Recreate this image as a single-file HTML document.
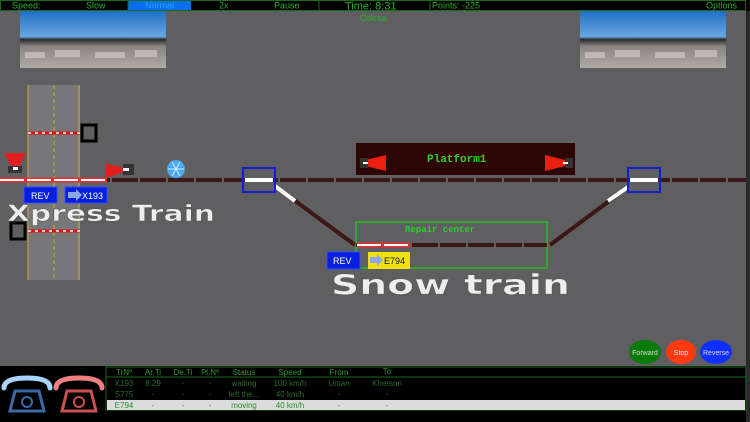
<!DOCTYPE html>
<html><head><style>
html,body{margin:0;padding:0;background:#5f5e60;}
svg{display:block;font-family:"Liberation Sans",sans-serif;}
</style></head><body>
<svg width="750" height="422" viewBox="0 0 750 422" xmlns="http://www.w3.org/2000/svg">
<defs>
<linearGradient id="sky" x1="0" y1="0" x2="0" y2="1">
<stop offset="0" stop-color="#1f6fc8"/><stop offset="0.45" stop-color="#6aa6e0"/><stop offset="0.5" stop-color="#2a2a2a"/><stop offset="0.62" stop-color="#8a8580"/><stop offset="1" stop-color="#b0aba5"/>
</linearGradient>
</defs>
<rect width="750" height="422" fill="#5f5e60"/>
<rect x="746" y="0" width="4" height="422" fill="#2a2a2a"/>
<!-- top bar -->
<rect x="0" y="0" width="750" height="11" fill="#000"/>
<rect x="128" y="0" width="63" height="10" fill="#0a6ef0"/>
<g fill="none" stroke="#1a6a1a" stroke-width="1"><rect x="0.5" y="0.5" width="745" height="10"/><line x1="128" y1="0" x2="128" y2="11"/><line x1="319" y1="0" x2="319" y2="11"/><line x1="430" y1="0" x2="430" y2="11"/></g>
<g fill="#2ab02a" font-size="9">
<text x="12" y="8.5">Speed:</text><text x="86" y="8.5">Slow</text><text x="145" y="8.5" fill="#1fa0ff">Normal</text><text x="219" y="8.5">2x</text><text x="274" y="8.5">Pause</text>
<text x="345" y="9.5" font-size="11">Time: 8:31</text><text x="432" y="8.5">Points: -225</text><text x="706" y="8.5">Options</text>
<text x="360" y="21">Odesa</text></g>
<!-- photos -->
<rect x="20" y="11" width="146" height="57" fill="url(#sky)"/>
<rect x="580" y="11" width="146" height="57" fill="url(#sky)"/>
<g fill="#cfcac4" opacity="0.7">
<rect x="25" y="52" width="20" height="6"/><rect x="55" y="50" width="25" height="7"/><rect x="95" y="52" width="30" height="6"/><rect x="135" y="50" width="22" height="7"/>
<rect x="585" y="52" width="20" height="6"/><rect x="615" y="50" width="25" height="7"/><rect x="655" y="52" width="30" height="6"/><rect x="695" y="50" width="22" height="7"/>
</g>
<!-- road -->
<rect x="28" y="85" width="52" height="195" fill="#777678"/>
<g stroke="#c8b030" stroke-width="1"><line x1="28" y1="85" x2="28" y2="280"/><line x1="79" y1="85" x2="79" y2="280"/><line x1="54" y1="85" x2="54" y2="280" stroke-dasharray="4 3"/></g>
<line x1="28" y1="133" x2="80" y2="133" stroke="#e01010" stroke-width="3"/><line x1="28" y1="133" x2="80" y2="133" stroke="#fff" stroke-width="1.5" stroke-dasharray="3 4"/>
<line x1="28" y1="231" x2="80" y2="231" stroke="#e01010" stroke-width="3"/><line x1="28" y1="231" x2="80" y2="231" stroke="#fff" stroke-width="1.5" stroke-dasharray="3 4"/>
<rect x="82" y="125" width="14" height="16" fill="none" stroke="#000" stroke-width="3"/>
<rect x="11" y="223" width="14" height="16" fill="none" stroke="#000" stroke-width="3"/>
<!-- main track -->
<line x1="0" y1="180" x2="746" y2="180" stroke="#3a1818" stroke-width="4" stroke-dasharray="26 2"/>
<line x1="0" y1="180" x2="107" y2="180" stroke="#e83030" stroke-width="5"/><line x1="0" y1="180" x2="107" y2="180" stroke="#fff" stroke-width="2" stroke-dasharray="24 3"/>
<!-- diagonals -->
<line x1="275" y1="186" x2="355" y2="245" stroke="#3a1818" stroke-width="4"/>
<line x1="275" y1="186" x2="295" y2="201" stroke="#fff" stroke-width="4"/>
<line x1="550" y1="245" x2="628" y2="187" stroke="#3a1818" stroke-width="4"/>
<line x1="608" y1="201" x2="628" y2="187" stroke="#fff" stroke-width="4"/>
<!-- switch boxes -->
<rect x="243" y="168" width="32" height="24" fill="none" stroke="#1020d0" stroke-width="2"/><line x1="245" y1="180" x2="273" y2="180" stroke="#fff" stroke-width="4"/>
<rect x="628" y="168" width="32" height="24" fill="none" stroke="#1020d0" stroke-width="2"/><line x1="630" y1="180" x2="658" y2="180" stroke="#fff" stroke-width="4"/>
<!-- signals -->
<polygon points="4,153 26,153 18,168 12,168" fill="#e02020"/><rect x="8" y="166" width="14" height="7" fill="#333"/><rect x="13" y="167" width="5" height="3" fill="#fff"/>
<polygon points="106,163 124,168 124,172 106,178" fill="#e02020"/><rect x="123" y="164" width="11" height="11" fill="#333"/><rect x="123" y="168" width="6" height="3" fill="#fff"/>
<!-- snowflake -->
<circle cx="176" cy="169" r="9" fill="#4aa8f0"/><g stroke="#d0ecff" stroke-width="1"><line x1="168" y1="169" x2="184" y2="169"/><line x1="172" y1="162" x2="180" y2="176"/><line x1="180" y1="162" x2="172" y2="176"/></g>
<!-- X193 labels -->
<rect x="24" y="187" width="33" height="16" fill="#0a1ee0" stroke="#3050ff"/><text x="31" y="199" fill="#fff" font-size="9">REV</text>
<rect x="65" y="187" width="42" height="16" fill="#0a1ee0" stroke="#3050ff"/><polygon points="68,192 76,192 76,189 82,195 76,201 76,198 68,198" fill="#8aa8e8"/><text x="82" y="199" fill="#fff" font-size="9">X193</text>
<text x="7" y="221" fill="#eee" font-size="22" font-weight="bold" textLength="208" lengthAdjust="spacingAndGlyphs" stroke="#555" stroke-width="0.5" font-family="'DejaVu Sans',sans-serif">Xpress Train</text>
<!-- platform -->
<rect x="356" y="143" width="219" height="32" fill="#2e0606"/>
<polygon points="386,155 366,160 366,166 386,171" fill="#e82010"/><rect x="360" y="158" width="8" height="10" fill="#333"/><rect x="363" y="162" width="5" height="2" fill="#fff"/>
<polygon points="545,155 565,160 565,166 545,171" fill="#e82010"/><rect x="565" y="158" width="8" height="10" fill="#333"/><rect x="563" y="162" width="5" height="2" fill="#fff"/>
<text x="427" y="162" fill="#2ed02e" font-size="11" font-family="'Liberation Mono',monospace" font-weight="bold">Platform1</text>
<!-- repair center -->
<rect x="356" y="222" width="191" height="46" fill="none" stroke="#20c020" stroke-width="1.5"/>
<text x="405" y="232" fill="#2ed02e" font-size="9" font-family="'Liberation Mono',monospace" font-weight="bold">Repair center</text>
<line x1="356" y1="245" x2="547" y2="245" stroke="#3a1818" stroke-width="4" stroke-dasharray="26 2"/>
<line x1="357" y1="245" x2="410" y2="245" stroke="#e83030" stroke-width="5"/><line x1="357" y1="245" x2="410" y2="245" stroke="#fff" stroke-width="2" stroke-dasharray="24 3"/>
<rect x="327" y="252" width="33" height="17" fill="#0a1ee0" stroke="#3050ff"/><text x="333" y="264" fill="#fff" font-size="9">REV</text>
<rect x="368" y="252" width="42" height="17" fill="#f0e010"/><polygon points="370,257 377,257 377,254 383,260 377,266 377,263 370,263" fill="#8aa8e8"/><text x="384" y="264" fill="#111" font-size="9">E794</text>
<text x="331" y="294" fill="#eee" font-size="28" font-weight="bold" textLength="239" lengthAdjust="spacingAndGlyphs" stroke="#555" stroke-width="0.5" font-family="'DejaVu Sans',sans-serif">Snow train</text>
<!-- buttons -->
<ellipse cx="645" cy="352" rx="16" ry="12" fill="#0a7a0a"/><text x="645" y="355" fill="#ddd" font-size="7" text-anchor="middle">Forward</text>
<ellipse cx="681" cy="352" rx="15" ry="12" fill="#ff3a10"/><text x="681" y="355" fill="#eee" font-size="7" text-anchor="middle">Stop</text>
<ellipse cx="716" cy="352" rx="16" ry="12" fill="#1030ff"/><text x="716" y="355" fill="#ddd" font-size="7" text-anchor="middle">Reverse</text>
<!-- bottom panel -->
<rect x="0" y="366" width="746" height="56" fill="#000"/>
<rect x="106" y="367" width="640" height="43" fill="none" stroke="#1a6a1a"/>
<line x1="106" y1="377" x2="746" y2="377" stroke="#1a6a1a"/>
<rect x="107" y="400" width="638" height="10" fill="#dcdcdc"/>
<g font-size="8" text-anchor="middle" fill="#2a9a2a">
<text x="124" y="375">TrNº</text><text x="153" y="375">Ar.Ti</text><text x="183" y="375">De.Ti</text><text x="210" y="375">Pl.Nº</text><text x="244" y="375">Status</text><text x="290" y="375">Speed</text><text x="339" y="375">From</text><text x="387" y="374">To</text>
<g fill="#2a6a2a"><text x="124" y="386">X193</text><text x="153" y="386">8:29</text><text x="183" y="386">-</text><text x="210" y="386">-</text><text x="244" y="386">waiting</text><text x="290" y="386">100 km/h</text><text x="339" y="386">Uman</text><text x="387" y="386">Kherson</text>
<text x="124" y="397">S775</text><text x="153" y="397">-</text><text x="183" y="397">-</text><text x="210" y="397">-</text><text x="244" y="397">left the...</text><text x="290" y="397">40 km/h</text><text x="339" y="397">-</text><text x="387" y="397">-</text></g>
<g fill="#2a8a2a"><text x="124" y="408">E794</text><text x="153" y="408">-</text><text x="183" y="408">-</text><text x="210" y="408">-</text><text x="244" y="408">moving</text><text x="290" y="408">40 km/h</text><text x="339" y="408">-</text><text x="387" y="408">-</text></g>
</g>
<!-- phones -->
<g fill="none" stroke-width="3" stroke-linecap="round">
<path d="M4,388 Q4,378 27,378 Q50,378 50,388" stroke="#a8d4ff" stroke-width="5"/>
<path d="M10,411 L15,391 L39,391 L44,411 Z" stroke="#3a6aa8"/><circle cx="27" cy="402" r="5" stroke="#3a6aa8" stroke-width="2"/>
<path d="M56,388 Q56,378 79,378 Q102,378 102,388" stroke="#f08080" stroke-width="5"/>
<path d="M62,411 L67,391 L91,391 L96,411 Z" stroke="#c85050"/><circle cx="79" cy="402" r="5" stroke="#c85050" stroke-width="2"/>
</g>
</svg>
</body></html>
